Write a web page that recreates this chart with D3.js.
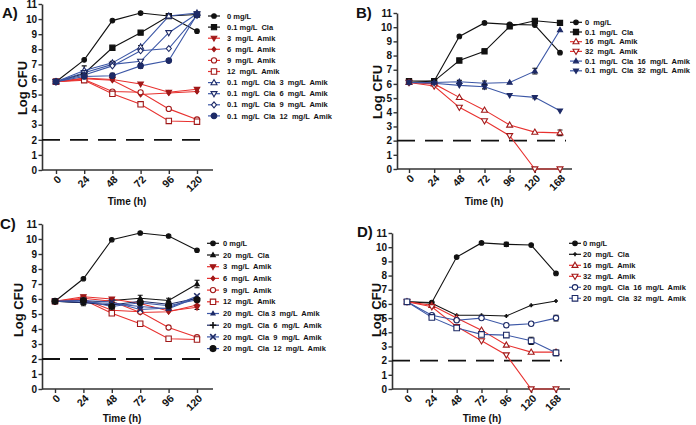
<!DOCTYPE html>
<html><head><meta charset="utf-8">
<script src="https://cdn.jsdelivr.net/npm/d3@7"></script>
<style>
body{margin:0;background:#fff}
svg{display:block}
text{font-family:"Liberation Sans",Arial,Helvetica,sans-serif;font-weight:bold;fill:#111}
</style></head>
<body><svg id="chart" width="696" height="425"></svg>
<script>
// ---------- data ----------
const timesAC = [0, 24, 48, 72, 96, 120];
const timesBD = [0, 24, 48, 72, 96, 120, 168];
const yTickValues = [0,1,2,3,4,5,6,7,8,9,10,11];
const detectionLimit = 2;

// Panel A
const aLabels = ["0 mg/L","0.1 mg/L  Cla","3  mg/L  Amik","6  mg/L  Amik","9  mg/L  Amik","12  mg/L  Amik",
  "0.1  mg/L  Cla  3  mg/L  Amik","0.1  mg/L  Cla  6  mg/L  Amik","0.1  mg/L  Cla  9  mg/L  Amik","0.1  mg/L  Cla  12  mg/L  Amik"];
const aZero   = [5.85, 7.3, 9.9, 10.4, 10.2, 9.2];
const aCla    = [5.85, 6.4, 8.1, 9.1, 10.2, 10.3];
const aAmik3  = [5.85, 6.1, 6.0, 5.7, 5.15, 5.35];
const aAmik6  = [5.85, 6.05, 5.95, 5.0, 5.1, 5.2];
const aAmik9  = [5.85, 6.0, 5.2, 5.15, 4.05, 3.35];
const aAmik12 = [5.85, 5.95, 5.05, 4.35, 3.25, 3.2];
const aCla3   = [5.85, 6.6, 7.1, 8.15, 10.2, 10.4];
const aCla6   = [5.85, 6.45, 7.0, 7.2, 9.1, 10.35];
const aCla9   = [5.85, 6.3, 6.9, 7.9, 8.05, 10.25];
const aCla12  = [5.85, 6.2, 6.25, 6.9, 7.25, 10.3];
const aErrCla3  = [0, 0.3, 0.1, 0.1, 0, 0.1];
const aErrCla12 = [0, 0.15, 0.15, 0.15, 0.1, 0];

// Panel B
const bLabels = ["0  mg/L","0.1  mg/L  Cla","16  mg/L  Amik","32  mg/L  Amik","0.1  mg/L  Cla  16  mg/L  Amik","0.1  mg/L  Cla  32  mg/L  Amik"];
const bZero   = [6.1, 6.2, 9.35, 10.3, 10.2, 10.15, 8.2];
const bCla    = [6.2, 6.2, 7.65, 8.3, 10.05, 10.45, 10.3];
const bAmik16 = [6.1, 6.0, 5.05, 4.15, 3.1, 2.6, 2.55];
const bAmik32 = [6.1, 5.85, 4.35, 3.4, 2.35, 0, 0];
const bCla16  = [6.1, 6.1, 6.15, 6.05, 6.1, 6.9, 9.8];
const bCla32  = [6.1, 6.05, 5.9, 5.8, 5.2, 5.05, 4.1];
const bErrCla    = [0, 0, 0, 0.15, 0.1, 0.1, 0];
const bErrAmik16 = [0, 0, 0, 0, 0, 0, 0.2];
const bErrCla16  = [0, 0, 0.1, 0.15, 0, 0.2, 0];
const bErrCla32  = [0, 0, 0, 0.15, 0, 0.1, 0];

// Panel C
const cLabels = ["0 mg/L","20  mg/L  Cla","3  mg/L  Amik","6  mg/L  Amik","9  mg/L  Amik","12  mg/L  Amik",
  "20  mg/L  Cla 3  mg/L  Amik","20  mg/L  Cla  6  mg/L  Amik","20  mg/L  Cla  9  mg/L  Amik","20  mg/L  Cla  12  mg/L  Amik"];
const cZero   = [5.85, 7.35, 9.95, 10.4, 10.2, 9.25];
const cCla    = [5.85, 5.75, 5.9, 6.05, 5.9, 7.0];
const cAmik3  = [5.85, 6.15, 6.0, 5.7, 5.2, 5.45];
const cAmik6  = [5.85, 6.05, 5.85, 5.1, 5.15, 5.6];
const cAmik9  = [5.85, 6.0, 5.25, 5.15, 4.1, 3.45];
const cAmik12 = [5.85, 5.95, 5.05, 4.35, 3.35, 3.3];
const cCla3   = [5.85, 5.8, 5.7, 5.5, 5.35, 6.1];
const cCla6   = [5.85, 5.75, 5.6, 5.85, 5.65, 6.05];
const cCla9   = [5.85, 5.9, 5.8, 5.3, 5.4, 6.2];
const cCla12  = [5.85, 5.9, 5.5, 5.75, 5.55, 5.95];
const cErrCla   = [0, 0.2, 0.15, 0.2, 0.15, 0.25];
const cErrAmik3 = [0, 0.1, 0, 0, 0, 0.15];

// Panel D
const dLabels = ["0 mg/L","20  mg/L  Cla","16  mg/L  Amik","32  mg/L  Amik","20  mg/L  Cla  16  mg/L  Amik","20  mg/L  Cla  32  mg/L  Amik"];
const dZero   = [6.15, 6.1, 9.3, 10.3, 10.2, 10.15, 8.15];
const dCla    = [6.15, 6.05, 5.2, 5.2, 5.15, 5.9, 6.2];
const dAmik16 = [6.15, 5.9, 5.0, 4.15, 3.1, 2.6, 2.6];
const dAmik32 = [6.15, 5.8, 4.4, 3.4, 2.4, 0, 0];
const dCla16  = [6.15, 5.2, 4.85, 5.0, 4.5, 4.6, 5.0];
const dCla32  = [6.15, 5.05, 4.3, 3.85, 3.8, 3.4, 2.55];
const dErrZero  = [0, 0, 0, 0, 0.15, 0, 0];
const dErrCla16 = [0, 0, 0, 0, 0, 0, 0.2];
const dErrCla32 = [0, 0, 0, 0.1, 0.15, 0.25, 0.2];

// ---------- styles ----------
const BLACK = "#111", RED = "#e8312f", BLUE = "#3c57a6", NAVY = "#1d2a66", DRED = "#a01818";

const panels = [
  { id:"A)", times:timesAC, labels:aLabels, yAxisX:42, xRange:[56,197], xEnd:213, yRange:[170,4],
    labelPos:[2,18], ylab:[22,88], tlab:[127,205],
    legend:{x:208, y0:16, dy:11.1, tx:227},
    series:[
      {v:aZero, c:BLACK, mc:BLACK, m:"circle", s:2.3, f:true},
      {v:aCla, c:BLACK, mc:BLACK, m:"square", s:2.6, f:true},
      {v:aAmik3, c:RED, mc:DRED, m:"triDown", s:2.4, f:true},
      {v:aAmik6, c:RED, mc:DRED, m:"diamond", s:1.8, f:true},
      {v:aAmik9, c:RED, mc:DRED, m:"circle", s:2.6, f:false},
      {v:aAmik12, c:RED, mc:DRED, m:"square", s:2.7, f:false},
      {v:aCla3, e:aErrCla3, c:BLUE, mc:NAVY, m:"triUp", s:2.6, f:false},
      {v:aCla6, c:BLUE, mc:NAVY, m:"triDown", s:2.6, f:false},
      {v:aCla9, c:BLUE, mc:NAVY, m:"diamond", s:2.3, f:false},
      {v:aCla12, e:aErrCla12, c:BLUE, mc:NAVY, m:"circle", s:2.8, f:true}
    ]},
  { id:"B)", times:timesBD, labels:bLabels, yAxisX:397, xRange:[409,560], xEnd:572, yRange:[169,13],
    labelPos:[356,18], ylab:[377,92], tlab:[484,205],
    legend:{x:570, y0:22.3, dy:9.7, tx:585},
    series:[
      {v:bZero, c:BLACK, mc:BLACK, m:"circle", s:2.3, f:true},
      {v:bCla, e:bErrCla, c:BLACK, mc:BLACK, m:"square", s:2.6, f:true},
      {v:bAmik16, e:bErrAmik16, c:RED, mc:DRED, m:"triUp", s:2.6, f:false},
      {v:bAmik32, c:RED, mc:DRED, m:"triDown", s:2.6, f:false},
      {v:bCla16, e:bErrCla16, c:BLUE, mc:NAVY, m:"triUp", s:2.2, f:true},
      {v:bCla32, e:bErrCla32, c:BLUE, mc:NAVY, m:"triDown", s:2.2, f:true}
    ]},
  { id:"C)", times:timesAC, labels:cLabels, yAxisX:42, xRange:[55,197], xEnd:213, yRange:[389,224],
    labelPos:[0,229], ylab:[18,310], tlab:[122,422],
    legend:{x:207, y0:243.3, dy:11.7, tx:223},
    series:[
      {v:cZero, c:BLACK, mc:BLACK, m:"circle", s:2.3, f:true},
      {v:cCla, e:cErrCla, c:BLACK, mc:BLACK, m:"triUp", s:2.0, f:true},
      {v:cAmik3, e:cErrAmik3, c:RED, mc:DRED, m:"triDown", s:2.4, f:true},
      {v:cAmik6, c:RED, mc:DRED, m:"diamond", s:1.8, f:true},
      {v:cAmik9, c:RED, mc:DRED, m:"circle", s:2.6, f:false},
      {v:cAmik12, c:RED, mc:DRED, m:"square", s:2.7, f:false},
      {v:cCla3, c:BLUE, mc:NAVY, m:"triUp", s:1.8, f:true},
      {v:cCla6, c:NAVY, mc:"#111", m:"plus", s:3.2, f:false},
      {v:cCla9, c:BLUE, mc:NAVY, m:"x", s:2.8, f:false},
      {v:cCla12, c:BLUE, mc:"#111", m:"circle", s:3.0, f:true}
    ]},
  { id:"D)", times:timesBD, labels:dLabels, yAxisX:392, xRange:[407,556], xEnd:570, yRange:[389,233],
    labelPos:[357,237], ylab:[376,310], tlab:[482,422],
    legend:{x:569, y0:243.3, dy:11, tx:583},
    series:[
      {v:dZero, e:dErrZero, c:BLACK, mc:BLACK, m:"circle", s:2.3, f:true},
      {v:dCla, c:BLACK, mc:BLACK, m:"plus", s:2.0, f:false},
      {v:dAmik16, c:RED, mc:DRED, m:"triUp", s:2.6, f:false},
      {v:dAmik32, c:RED, mc:DRED, m:"triDown", s:2.6, f:false},
      {v:dCla16, e:dErrCla16, c:BLUE, mc:NAVY, m:"circle", s:2.7, f:false},
      {v:dCla32, e:dErrCla32, c:BLUE, mc:NAVY, m:"square", s:2.8, f:false}
    ]}
];

function shape(type, s) {
  switch (type) {
    case "circle": return `M${s},0A${s},${s} 0 1,1 ${-s},0A${s},${s} 0 1,1 ${s},0Z`;
    case "square": return `M${-s},${-s}H${s}V${s}H${-s}Z`;
    case "triUp": return `M0,${-s*1.2}L${s*1.15},${s*0.8}L${-s*1.15},${s*0.8}Z`;
    case "triDown": return `M0,${s*1.2}L${s*1.15},${-s*0.8}L${-s*1.15},${-s*0.8}Z`;
    case "diamond": return `M0,${-s*1.3}L${s*1.1},0L0,${s*1.3}L${-s*1.1},0Z`;
    case "plus": return `M${-s},0H${s}M0,${-s}V${s}`;
    case "x": return `M${-s},${-s}L${s},${s}M${-s},${s}L${s},${-s}`;
  }
}
function drawMarker(g, sr, x, y) {
  const stroke = (sr.m === "plus" || sr.m === "x");
  g.append("path").attr("d", shape(sr.m, sr.s))
    .attr("transform", `translate(${x},${y})`)
    .attr("fill", stroke ? "none" : (sr.f ? sr.mc : "#fff"))
    .attr("stroke", sr.mc)
    .attr("stroke-width", stroke ? 1.6 : 1.1);
}

const svg = d3.select("#chart");

panels.forEach(p => {
  const g = svg.append("g");
  const x = d3.scalePoint().domain(p.times).range(p.xRange);
  const y = d3.scaleLinear().domain([0, 11]).range(p.yRange);

  // y axis
  const ya = g.append("g").attr("transform", `translate(${p.yAxisX},0)`)
    .call(d3.axisLeft(y).tickValues(yTickValues).tickSize(3.5).tickPadding(1.5).tickSizeOuter(0));
  ya.select(".domain").attr("stroke", "#333").attr("stroke-width", 1.6);
  ya.selectAll(".tick line").attr("stroke", "#333").attr("stroke-width", 1.4);
  ya.selectAll(".tick text").style("font-size", "10px").attr("fill", "#111");

  // x axis (ticks from d3 axis, rotated labels drawn in nested groups)
  const xa = g.append("g").attr("transform", `translate(0,${y(0)})`)
    .call(d3.axisBottom(x).tickSize(4).tickSizeOuter(0).tickFormat(""));
  xa.select(".domain").remove();
  xa.selectAll(".tick text").remove();
  xa.append("line").attr("x1", p.yAxisX).attr("x2", p.xEnd).attr("stroke", "#333").attr("stroke-width", 1.6);
  xa.selectAll(".tick line").attr("stroke", "#333").attr("stroke-width", 1.4);
  const lg = g.selectAll(null).data(p.times).enter().append("g")
    .attr("transform", d => `translate(${x(d) + 6},${y(0) + 10})`);
  lg.append("g").attr("transform", "rotate(-45)")
    .append("text").attr("text-anchor", "end").attr("x", 0).attr("y", 0)
    .style("font-size", "10.5px").text(d => String(d));

  // detection limit
  g.append("line").attr("x1", p.yAxisX).attr("x2", p.xRange[1] + 6)
    .attr("y1", y(detectionLimit)).attr("y2", y(detectionLimit))
    .attr("stroke", "#111").attr("stroke-width", 1.8).attr("stroke-dasharray", "18,10");

  // series lines
  const line = d3.line().x((d, i) => x(p.times[i])).y(d => y(d));
  p.series.forEach(sr => {
    g.append("path").datum(sr.v).attr("d", line).attr("fill", "none")
      .attr("stroke", sr.c).attr("stroke-width", 1.1);
  });
  // error bars + markers
  p.series.forEach(sr => {
    if (sr.e) sr.e.forEach((e, i) => {
      if (!e) return;
      const cx = x(p.times[i]), y1 = y(sr.v[i] - e), y2 = y(sr.v[i] + e);
      g.append("path").attr("d", `M${cx},${y1}V${y2}M${cx-2.5},${y1}H${cx+2.5}M${cx-2.5},${y2}H${cx+2.5}`)
        .attr("stroke", "#111").attr("stroke-width", 1.1).attr("fill", "none");
    });
    sr.v.forEach((v, i) => drawMarker(g, sr, x(p.times[i]), y(v)));
  });

  // labels
  g.append("text").attr("x", p.labelPos[0]).attr("y", p.labelPos[1]).style("font-size", "15px").text(p.id);
  g.append("text").attr("transform", `translate(${p.ylab[0]},${p.ylab[1]}) rotate(-90)`)
    .attr("text-anchor", "middle").attr("dy", "0.35em").style("font-size", "13px").text("Log CFU");
  g.append("text").attr("x", p.tlab[0]).attr("y", p.tlab[1]).attr("text-anchor", "middle")
    .style("font-size", "10px").text("Time (h)");

  // legend
  const L = p.legend;
  p.series.forEach((sr, i) => {
    const ly = L.y0 + i * L.dy;
    g.append("line").attr("x1", L.x).attr("x2", L.x + 12).attr("y1", ly).attr("y2", ly)
      .attr("stroke", sr.c).attr("stroke-width", 1.2);
    drawMarker(g, sr, L.x + 6, ly);
    g.append("text").attr("x", L.tx).attr("y", ly).attr("dy", "0.35em")
      .style("font-size", "7.5px").style("white-space", "pre").attr("xml:space", "preserve").text(p.labels[i]);
  });
});
</script></body></html>
